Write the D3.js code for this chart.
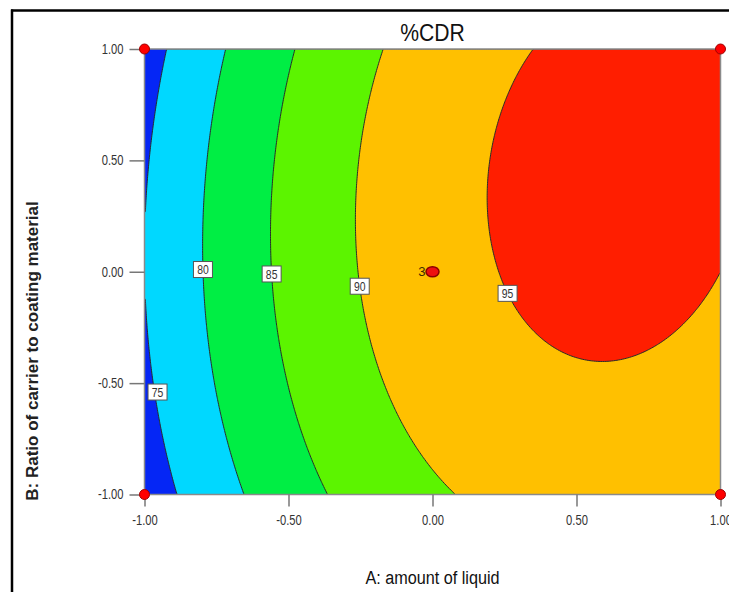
<!DOCTYPE html>
<html>
<head>
<meta charset="utf-8">
<script src="https://cdn.jsdelivr.net/npm/d3@7"></script>
<style>
  html, body { margin: 0; padding: 0; background: #fff; }
  svg { display: block; }
</style>
</head>
<body>
<svg id="chart" width="729" height="592"></svg>
<script>
// Fitted quadratic model for %CDR in coded factors A and B
const modelTerms = ["Intercept", "A", "B", "AB", "A^2", "B^2"];
const modelCoefficients = [93.13, 10.0, 1.395, 1.05, -8.13, -2.395];

// Contour levels and band colours (lowest band first)
const contourLevels = [75, 80, 85, 90, 95];
const bandColors = ["#0526f5", "#00d8ff", "#00ee44", "#5cf400", "#ffc000", "#ff1e00"];

// Where along B each contour label sits
const labelB = [-0.54, 0.01, -0.01, -0.065, -0.097];

// Design points (coded units) and their replicate counts
const designA = [-1, 1, -1, 1, 0];
const designB = [-1, -1, 1, 1, 0];
const designReps = [1, 1, 1, 1, 3];

// Axis ticks
const tickValues = [-1, -0.5, 0, 0.5, 1];
const tickLabels = ["-1.00", "-0.50", "0.00", "0.50", "1.00"];

const chartTitle = "%CDR";
const xTitle = "A: amount of liquid";
const yTitle = "B: Ratio of carrier to coating material";

function predict(a, b) {
  const c = modelCoefficients;
  return c[0] + c[1] * a + c[2] * b + c[3] * a * b + c[4] * a * a + c[5] * b * b;
}

const svg = d3.select("#chart");
const plot = { left: 144.5, right: 720.5, top: 49, bottom: 494.5 };
const x = d3.scaleLinear().domain([-1, 1]).range([plot.left, plot.right]);
const y = d3.scaleLinear().domain([-1, 1]).range([plot.bottom, plot.top]);

const sans = "'Liberation Sans', Arial, sans-serif";

// Squeeze a text element horizontally to give a narrow face
function narrowText(sel, factor) {
  sel.each(function () {
    const w = this.getComputedTextLength();
    if (w > 0) {
      d3.select(this).attr("textLength", w * factor).attr("lengthAdjust", "spacingAndGlyphs");
    }
  });
}

// Outer frame lines
svg.append("line").attr("x1", 11).attr("x2", 729).attr("y1", 10.5).attr("y2", 10.5)
  .attr("stroke", "#000").attr("stroke-width", 2.5);
svg.append("line").attr("x1", 12).attr("x2", 12).attr("y1", 9.5).attr("y2", 592)
  .attr("stroke", "#000").attr("stroke-width", 2.5);

// Sample the model on a grid
const nx = 320, ny = 260;
const values = new Float64Array(nx * ny);
for (let j = 0; j < ny; j++) {
  const b = 1 - 2 * (j + 0.5) / ny;
  for (let i = 0; i < nx; i++) {
    const a = -1 + 2 * (i + 0.5) / nx;
    values[j * nx + i] = predict(a, b);
  }
}
const gridToA = gx => -1 + 2 * gx / nx;
const gridToB = gy => 1 - 2 * gy / ny;
const path = d3.geoPath(d3.geoTransform({
  point(px, py) { this.stream.point(x(gridToA(px)), y(gridToB(py))); }
}));

const contours = d3.contours().size([nx, ny]).thresholds(contourLevels)(values);

svg.append("defs").append("clipPath").attr("id", "plotClip")
  .append("rect").attr("x", plot.left).attr("y", plot.top)
  .attr("width", plot.right - plot.left).attr("height", plot.bottom - plot.top);

const g = svg.append("g").attr("clip-path", "url(#plotClip)");
g.append("rect").attr("x", plot.left).attr("y", plot.top)
  .attr("width", plot.right - plot.left).attr("height", plot.bottom - plot.top)
  .attr("fill", bandColors[0]);
g.selectAll("path.band").data(contours).join("path")
  .attr("class", "band")
  .attr("d", path)
  .attr("fill", (d, i) => bandColors[i + 1])
  .attr("stroke", "#2a2a2a")
  .attr("stroke-width", 1);

// Plot frame
svg.append("rect").attr("x", plot.left).attr("y", plot.top)
  .attr("width", plot.right - plot.left).attr("height", plot.bottom - plot.top)
  .attr("fill", "none").attr("stroke", "#8a8a8a").attr("stroke-width", 1.5);

// Axes
const yAxis = d3.axisLeft(y).tickValues(tickValues)
  .tickFormat((d, i) => tickLabels[i]).tickSize(15).tickPadding(6);
const xAxis = d3.axisBottom(x).tickValues(tickValues)
  .tickFormat((d, i) => tickLabels[i]).tickSize(12).tickPadding(9);

const ya = svg.append("g").attr("transform", `translate(${plot.left},0)`).call(yAxis);
const xa = svg.append("g").attr("transform", `translate(0,${plot.bottom})`).call(xAxis);
[ya, xa].forEach(ax => {
  ax.select(".domain").remove();
  ax.selectAll(".tick line").attr("stroke", "#777").attr("stroke-width", 1.5);
  ax.selectAll(".tick text").attr("fill", "#333").attr("font-family", sans).attr("font-size", 14)
    .call(narrowText, 0.8);
});

// Contour labels placed on each level line
function solveA(level, b) {
  let lo = -1.2, hi = 0.6;
  for (let k = 0; k < 60; k++) {
    const mid = (lo + hi) / 2;
    if (predict(mid, b) < level) lo = mid; else hi = mid;
  }
  return (lo + hi) / 2;
}
contourLevels.forEach((lv, i) => {
  const b = labelB[i];
  const px = x(Math.max(-1, solveA(lv, b))), py = y(b);
  const lg = svg.append("g").attr("transform", `translate(${px + (lv === 75 ? 3 : 0)},${py})`);
  lg.append("rect").attr("x", -9.5).attr("y", -8).attr("width", 19).attr("height", 16)
    .attr("fill", "#fff").attr("stroke", "#555").attr("stroke-width", 1);
  lg.append("text").attr("text-anchor", "middle").attr("dy", "0.36em")
    .attr("font-family", sans).attr("font-size", 13).attr("fill", "#333").text(lv)
    .call(narrowText, 0.8);
});

// Design points
designA.forEach((a, i) => {
  const cx = x(a), cy = y(designB[i]);
  if (designReps[i] > 1) {
    svg.append("ellipse").attr("cx", cx).attr("cy", cy).attr("rx", 6.5).attr("ry", 5)
      .attr("fill", "#ee1010").attr("stroke", "#8a0000").attr("stroke-width", 1.5);
    svg.append("text").attr("x", cx - 7).attr("y", cy).attr("dy", "0.36em")
      .attr("text-anchor", "end").attr("font-family", sans).attr("font-size", 13)
      .attr("fill", "#3a2a00").text(designReps[i]);
  } else {
    svg.append("circle").attr("cx", cx).attr("cy", cy).attr("r", 5)
      .attr("fill", "#ff0000").attr("stroke", "#a00000").attr("stroke-width", 1);
  }
});

// Titles
svg.append("text").attr("x", x(0)).attr("y", 41).attr("text-anchor", "middle")
  .attr("font-family", sans).attr("font-size", 24).attr("fill", "#111").text(chartTitle)
  .call(narrowText, 0.88);
svg.append("text").attr("x", x(0)).attr("y", 584).attr("text-anchor", "middle")
  .attr("font-family", sans).attr("font-size", 18).attr("fill", "#111").text(xTitle)
  .call(narrowText, 0.9);
svg.append("text").attr("transform", `translate(38,351) rotate(-90)`).attr("text-anchor", "middle")
  .attr("font-family", sans).attr("font-weight", "bold").attr("font-size", 17)
  .attr("fill", "#222").text(yTitle);
</script>
</body>
</html>
